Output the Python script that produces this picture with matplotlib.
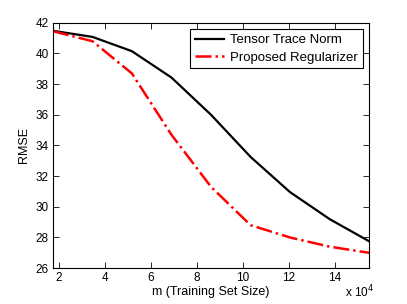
import matplotlib
matplotlib.use("Agg")
import matplotlib.pyplot as plt
import numpy as np

plt.rcParams['font.family'] = ['Liberation Sans', 'DejaVu Sans']

# training set size, in units of 10^4
m = [1.74, 3.46, 5.17, 6.89, 8.61, 10.33, 12.04, 13.76, 15.48]
trace_norm = [41.48, 41.08, 40.15, 38.43, 36.0, 33.25, 30.96, 29.2, 27.75]
proposed = [41.45, 40.8, 38.7, 34.7, 31.3, 28.8, 28.0, 27.4, 27.0]

fig = plt.figure(figsize=(4.07, 3.04), dpi=100)
ax = fig.add_axes([0.130, 0.118, 0.777, 0.807])

ax.plot(m, trace_norm, color='black', lw=1.6, label='Tensor Trace Norm')
ax.plot(m, proposed, color='red', lw=1.8, ls='-.', label='Proposed Regularizer')

ax.set_xlim(1.74, 15.48)
ax.set_ylim(26, 42)
ax.set_xticks(np.arange(2, 15, 2))
ax.set_yticks(np.arange(26, 43, 2))
ax.tick_params(direction='in', top=True, right=True, length=4, width=0.6,
               labelsize=8.5, pad=3)
for s in ax.spines.values():
    s.set_linewidth(0.8)

ax.set_xlabel('m (Training Set Size)', fontsize=9, labelpad=1)
ax.set_ylabel('RMSE', fontsize=9, labelpad=4)
fig.text(0.918, 0.012, r'x 10$^4$', ha='right', va='bottom', fontsize=8.5)

leg = ax.legend(loc='upper right', fontsize=9.5, fancybox=False, framealpha=1,
                edgecolor='black', borderaxespad=0.5, handlelength=2.2,
                handletextpad=0.5, borderpad=0.35, labelspacing=0.4)
leg.get_frame().set_linewidth(0.8)

fig.savefig('out.png', dpi=100)
